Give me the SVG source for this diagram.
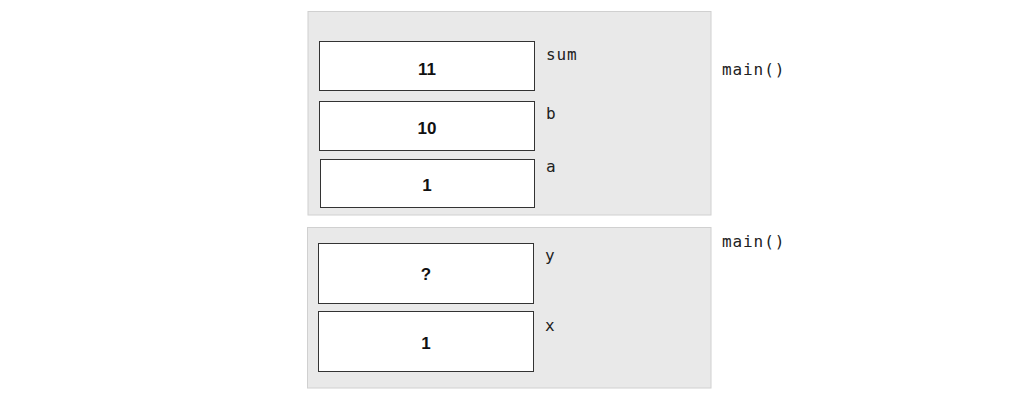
<svg xmlns="http://www.w3.org/2000/svg" width="1024" height="400" viewBox="0 0 1024 400">
<style>
.frame{fill:#e9e9e9;stroke:#d0d0d0;stroke-width:1}
.box{fill:#ffffff;stroke:#333333;stroke-width:1}
.val{font-family:"Liberation Sans",Arial,sans-serif;font-weight:bold;font-size:17px;fill:#111;text-anchor:middle}
.lbl{font-family:"DejaVu Sans Mono",monospace;font-size:16px;fill:#222;letter-spacing:0.9px}
</style>
<rect width="1024" height="400" fill="#ffffff"/>
<g id="frame1">
<rect class="frame" x="308" y="11.5" width="403" height="203.5"/>
<text class="lbl" x="722" y="75">main()</text>
</g>
<g id="var-sum">
<rect class="box" x="319.5" y="41.5" width="215" height="49"/>
<text class="val" x="427" y="75">11</text>
<text class="lbl" x="546" y="60">sum</text>
</g>
<g id="var-b">
<rect class="box" x="319.5" y="101.5" width="215" height="49"/>
<text class="val" x="427" y="134">10</text>
<text class="lbl" x="546" y="119">b</text>
</g>
<g id="var-a">
<rect class="box" x="320.5" y="159.5" width="214" height="48"/>
<text class="val" x="427" y="191">1</text>
<text class="lbl" x="546" y="172">a</text>
</g>
<g id="frame2">
<rect class="frame" x="307.5" y="227.5" width="403.5" height="160.5"/>
<text class="lbl" x="722" y="247">main()</text>
</g>
<g id="var-y">
<rect class="box" x="318.5" y="243.5" width="215" height="60"/>
<text class="val" x="426" y="280">?</text>
<text class="lbl" x="545" y="261">y</text>
</g>
<g id="var-x">
<rect class="box" x="318.5" y="311.5" width="215" height="60"/>
<text class="val" x="426" y="349">1</text>
<text class="lbl" x="545" y="331">x</text>
</g>
<g id="connectors"></g>
</svg>
